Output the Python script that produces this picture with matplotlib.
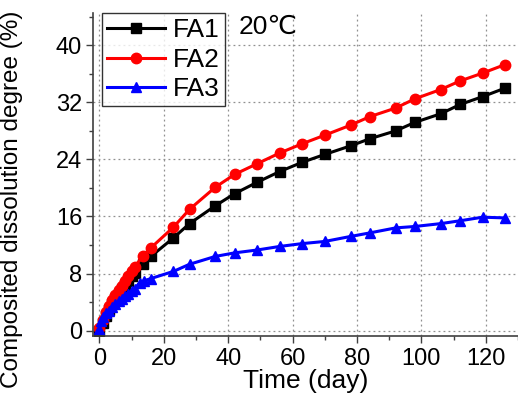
import numpy as np
import matplotlib.pyplot as plt

plt.rcParams['font.family'] = ['Liberation Sans', 'DejaVu Sans']

# Dissolution data at 20 C (time in days, dissolution degree in %)
t_fa1 = [0, 1, 2, 3, 4, 5, 6, 7, 8, 9, 10, 11, 13.5, 16, 23, 28, 36, 42, 49, 56, 63,
         70, 78, 84, 92, 98, 106, 112, 119, 126]
fa1 = [0.0, 1.0, 2.0, 2.9, 3.7, 4.4, 5.1, 5.8, 6.4, 7.0, 7.6, 8.1, 9.4, 10.4, 13.0, 15.0,
       17.5, 19.2, 20.8, 22.3, 23.6, 24.7, 25.9, 26.9, 28.0, 29.2, 30.4, 31.7, 32.8, 34.0]

t_fa2 = [0, 1, 2, 3, 4, 5, 6, 7, 8, 9, 10, 11, 13.5, 16, 23, 28, 36, 42, 49, 56, 63,
         70, 78, 84, 92, 98, 106, 112, 119, 126]
fa2 = [0.3, 1.5, 2.6, 3.5, 4.3, 5.0, 5.7, 6.3, 7.0, 7.6, 8.3, 8.9, 10.5, 11.6, 14.5, 17.0,
       20.1, 21.9, 23.4, 24.9, 26.2, 27.4, 28.8, 30.0, 31.2, 32.5, 33.8, 35.0, 36.1, 37.3]

t_fa3 = [0, 0.5, 1, 2, 3, 4, 5, 6, 7, 8, 9, 10, 11, 12.5, 14, 16, 23, 28, 36, 42, 49, 56,
         63, 70, 78, 84, 92, 98, 106, 112, 119, 126]
fa3 = [0.2, 1.3, 1.9, 2.4, 2.8, 3.3, 3.7, 4.1, 4.5, 4.9, 5.2, 5.5, 5.9, 6.7, 7.0, 7.3, 8.3,
       9.3, 10.4, 10.9, 11.3, 11.8, 12.2, 12.5, 13.2, 13.7, 14.4, 14.6, 15.0, 15.4, 15.9, 15.8]

fig = plt.figure(figsize=(5.18, 4.0), dpi=100)
ax = fig.add_axes([0.180, 0.161, 0.820, 0.806])

ax.plot(t_fa1, fa1, color='black', lw=2.2, marker='s', ms=6.5, label='FA1')
ax.plot(t_fa2, fa2, color='red', lw=2.2, marker='o', ms=7.5, label='FA2')
ax.plot(t_fa3, fa3, color='blue', lw=2.2, marker='^', ms=7.5, label='FA3')

ax.set_xlim(-1.9, 130)
ax.set_ylim(-0.7, 44.5)
ax.set_xticks(np.arange(0, 121, 20))
ax.set_xticks(np.arange(10, 131, 20), minor=True)
ax.set_yticks(np.arange(0, 41, 8))
ax.set_yticks(np.arange(4, 45, 8), minor=True)

ax.grid(True, which='major', color='#909090', linestyle=(0, (1.5, 2.5)), lw=0.9)
ax.set_axisbelow(True)

for side in ['top', 'right']:
    ax.spines[side].set_visible(False)
for side in ['left', 'bottom']:
    ax.spines[side].set_color('#404040')
    ax.spines[side].set_linewidth(1.2)

ax.tick_params(which='both', direction='out', color='#404040', width=1.0, labelsize=17)
ax.tick_params(which='major', length=5)
ax.tick_params(which='minor', length=3)
ax.tick_params(axis='x', pad=4)
ax.tick_params(axis='y', pad=3)

ax.set_xlabel('Time (day)', fontsize=19, labelpad=-1)
ax.set_ylabel('Composited dissolution degree (%)', fontsize=17.5)
ax.yaxis.set_label_coords(-0.165, 0.423)

leg = ax.legend(loc='upper left', bbox_to_anchor=(0.02, 1.0), fontsize=19, frameon=True,
                fancybox=False, edgecolor='black', handlelength=2.2, handletextpad=0.3,
                labelspacing=0.2, borderpad=0.2, borderaxespad=0.0)
leg.get_frame().set_linewidth(1.0)

ax.text(0.342, 0.956, '20\u2103', transform=ax.transAxes, fontsize=19, va='center', ha='left')

fig.savefig('out.png', dpi=100)
